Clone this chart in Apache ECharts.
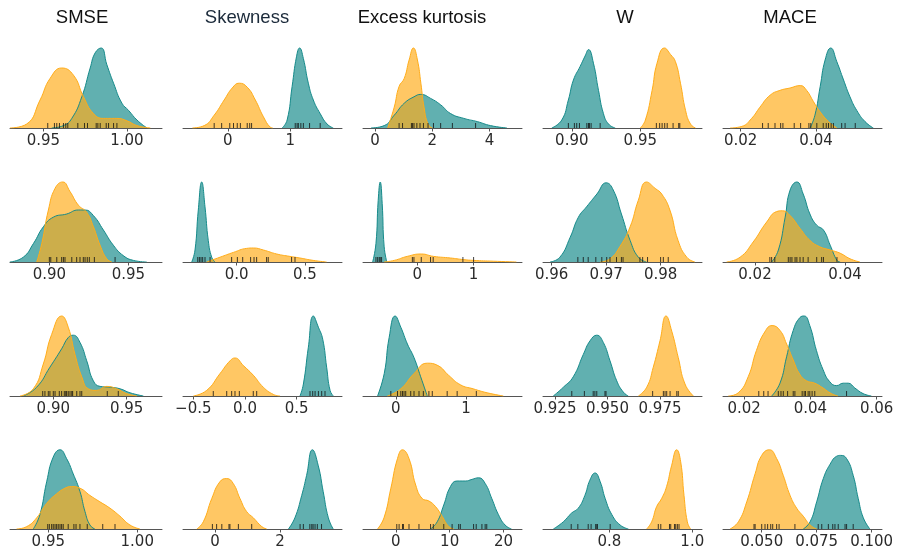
<!DOCTYPE html>
<html>
<head>
<meta charset="utf-8">
<title>KDE grid</title>
<script src="https://cdn.jsdelivr.net/npm/echarts@6/dist/echarts.min.js"></script>
<style>
  html, body { margin: 0; padding: 0; background: #fff; }
  #chart { width: 897px; height: 551px; }
</style>
</head>
<body>
<div id="chart"></div>
<script>
// column titles
var titles = ['SMSE', 'Skewness', 'Excess kurtosis', 'W', 'MACE'];

// ---- density curves, [value, relative density] ----
// row 1
var tealR1C1 = [[0.955,0],[0.962,0.03],[0.967,0.12],[0.973,0.39],[0.978,0.75],[0.981,0.94],[0.9846,1.0],[0.988,0.79],[0.992,0.56],[0.997,0.31],[1.001,0.22],[1.006,0.10],[1.012,0]];
var yellowR1C1 = [[0.93,0],[0.94,0.05],[0.948,0.35],[0.954,0.62],[0.961,0.75],[0.968,0.66],[0.974,0.39],[0.98,0.18],[0.986,0.12],[0.994,0.12],[1.0,0.09],[1.006,0.03],[1.014,0]];
var tealR1C2 = [[0.87,0],[0.95,0.1],[1.03,0.52],[1.1,0.89],[1.15,1.0],[1.21,0.87],[1.29,0.56],[1.37,0.35],[1.48,0.18],[1.59,0.05],[1.69,0]];
var yellowR1C2 = [[-0.57,0],[-0.38,0.03],[-0.22,0.16],[-0.06,0.35],[0.07,0.5],[0.18,0.56],[0.31,0.51],[0.44,0.35],[0.57,0.14],[0.68,0.01],[0.72,0]];
var tealR1C3 = [[-0.14,0],[0.32,0.03],[0.67,0.16],[1.02,0.31],[1.36,0.39],[1.6,0.42],[1.94,0.37],[2.29,0.29],[2.64,0.18],[3.1,0.12],[3.57,0.08],[4.03,0.03],[4.6,0]];
var yellowR1C3 = [[0.44,0],[0.67,0.26],[0.84,0.52],[1.02,0.62],[1.19,0.85],[1.34,1.0],[1.48,0.85],[1.6,0.56],[1.71,0.26],[1.85,0.05],[2.0,0]];
var tealR1C4 = [[0.8854,0],[0.8927,0.1],[0.8975,0.35],[0.9012,0.6],[0.9061,0.77],[0.9097,0.9],[0.9122,0.98],[0.9158,0.81],[0.9195,0.47],[0.9231,0.18],[0.9268,0.05],[0.9317,0]];
var yellowR1C4 = [[0.95,0],[0.9537,0.1],[0.9586,0.47],[0.9622,0.81],[0.9676,1.0],[0.972,0.92],[0.9756,0.83],[0.9793,0.56],[0.983,0.22],[0.9866,0.05],[0.9903,0]];
var tealR1C5 = [[0.0384,0],[0.0397,0.16],[0.0411,0.52],[0.0424,0.85],[0.0439,1.0],[0.0455,0.83],[0.0473,0.6],[0.049,0.39],[0.0508,0.22],[0.053,0.08],[0.0552,0]];
var yellowR1C5 = [[0.0172,0],[0.0203,0.02],[0.0229,0.12],[0.0251,0.26],[0.0278,0.41],[0.0304,0.47],[0.0331,0.5],[0.0358,0.53],[0.0375,0.47],[0.0393,0.33],[0.0411,0.2],[0.0433,0.08],[0.0455,0]];
// row 2
var tealR2C1 = [[0.875,0],[0.8835,0.06],[0.8899,0.23],[0.8962,0.44],[0.9025,0.56],[0.911,0.6],[0.9184,0.65],[0.9226,0.65],[0.9279,0.58],[0.9342,0.4],[0.9405,0.21],[0.9468,0.08],[0.9532,0.02],[0.9616,0]];
var yellowR2C1 = [[0.892,0],[0.8952,0.23],[0.8994,0.65],[0.9036,0.92],[0.9085,1.0],[0.9131,0.88],[0.9184,0.71],[0.9237,0.62],[0.9279,0.44],[0.9321,0.21],[0.9363,0.04],[0.9395,0]];
var tealR2C2 = [[-0.329,0],[-0.305,0.15],[-0.281,0.65],[-0.256,1.0],[-0.232,0.69],[-0.208,0.27],[-0.183,0.06],[-0.159,0]];
var yellowR2C2 = [[-0.22,0],[-0.122,0.06],[-0.024,0.12],[0.073,0.17],[0.122,0.175],[0.195,0.15],[0.293,0.1],[0.39,0.07],[0.463,0.05],[0.56,0.02],[0.658,0]];
var tealR2C3 = [[-0.794,0],[-0.735,0.23],[-0.695,0.77],[-0.659,1.0],[-0.624,0.73],[-0.589,0.19],[-0.541,0]];
var yellowR2C3 = [[-0.59,0],[-0.41,0.02],[-0.18,0.07],[0.07,0.1],[0.29,0.07],[0.59,0.05],[0.82,0.03],[1.0,0.02],[1.35,0.01],[1.76,0]];
var tealR2C4 = [[0.9597,0],[0.9615,0.06],[0.9634,0.31],[0.9649,0.56],[0.9664,0.69],[0.9683,0.85],[0.97,0.99],[0.9713,0.9],[0.9728,0.6],[0.9744,0.27],[0.9759,0.06],[0.9774,0]];
var yellowR2C4 = [[0.9689,0],[0.9707,0.04],[0.9725,0.19],[0.9744,0.44],[0.9759,0.77],[0.9774,1.0],[0.979,0.92],[0.9802,0.85],[0.9817,0.65],[0.9832,0.27],[0.9848,0.06],[0.9863,0]];
var tealR2C5 = [[0.0237,0],[0.0252,0.15],[0.0267,0.56],[0.0278,0.9],[0.0293,1.0],[0.0307,0.85],[0.0322,0.6],[0.0337,0.46],[0.0352,0.4],[0.0367,0.21],[0.0382,0.02],[0.0389,0]];
var yellowR2C5 = [[0.0137,0],[0.0167,0.06],[0.0196,0.25],[0.0226,0.5],[0.0248,0.63],[0.0261,0.64],[0.0278,0.58],[0.03,0.42],[0.0322,0.27],[0.0344,0.19],[0.0367,0.15],[0.0389,0.11],[0.0411,0.04],[0.0433,0]];
// row 3
var tealR3C1 = [[0.8795,0],[0.8887,0.11],[0.8977,0.36],[0.9057,0.59],[0.9102,0.73],[0.9136,0.76],[0.9182,0.67],[0.9228,0.44],[0.9273,0.19],[0.9319,0.12],[0.9387,0.11],[0.9455,0.09],[0.9523,0.04],[0.9614,0]];
var yellowR3C1 = [[0.8773,0],[0.8864,0.09],[0.8932,0.4],[0.8989,0.77],[0.9057,1.0],[0.9102,0.86],[0.9148,0.52],[0.9194,0.24],[0.9239,0.09],[0.9296,0.07],[0.9364,0.12],[0.9432,0.09],[0.95,0.03],[0.9569,0]];
var tealR3C2 = [[0.532,0],[0.565,0.15],[0.613,0.61],[0.661,1.0],[0.71,0.86],[0.752,0.71],[0.79,0.36],[0.823,0.07],[0.855,0]];
var yellowR3C2 = [[-0.5,0],[-0.371,0.07],[-0.242,0.28],[-0.145,0.44],[-0.097,0.475],[-0.016,0.38],[0.08,0.26],[0.177,0.11],[0.274,0.02],[0.339,0]];
var tealR3C3 = [[-0.26,0],[-0.165,0.28],[-0.095,0.73],[-0.01,1.0],[0.071,0.86],[0.165,0.65],[0.259,0.48],[0.354,0.24],[0.448,0]];
var yellowR3C3 = [[-0.12,0],[0.071,0.09],[0.259,0.28],[0.448,0.41],[0.6,0.38],[0.75,0.26],[0.92,0.14],[1.1,0.09],[1.3,0.04],[1.53,0]];
var tealR3C4 = [[0.9242,0],[0.929,0.11],[0.9337,0.24],[0.9385,0.52],[0.9417,0.69],[0.9449,0.76],[0.948,0.67],[0.9512,0.44],[0.9544,0.19],[0.9575,0.05],[0.9599,0]];
var yellowR3C4 = [[0.9647,0],[0.9687,0.11],[0.9718,0.36],[0.975,0.69],[0.9779,1.0],[0.9806,0.81],[0.9837,0.48],[0.9869,0.15],[0.9909,0]];
var tealR3C5 = [[0.0283,0],[0.0308,0.16],[0.0328,0.49],[0.0348,0.82],[0.0368,0.98],[0.0381,1.0],[0.0398,0.88],[0.0418,0.57],[0.0438,0.33],[0.0458,0.18],[0.0479,0.13],[0.0499,0.16],[0.0514,0.16],[0.0534,0.1],[0.0559,0.03],[0.0584,0]];
var yellowR3C5 = [[0.0152,0],[0.0182,0.04],[0.0212,0.24],[0.0237,0.57],[0.0262,0.8],[0.0284,0.88],[0.0308,0.82],[0.0328,0.65],[0.0348,0.45],[0.0368,0.27],[0.0388,0.19],[0.0413,0.16],[0.0438,0.1],[0.0463,0.03],[0.0483,0]];
// row 4
var tealR4C1 = [[0.9416,0],[0.9453,0.18],[0.9491,0.59],[0.9528,0.9],[0.9566,0.99],[0.9603,0.88],[0.964,0.69],[0.9678,0.47],[0.9706,0.22],[0.9734,0.05],[0.9762,0]];
var yellowR4C1 = [[0.9322,0],[0.9379,0.03],[0.9435,0.14],[0.9491,0.32],[0.9547,0.44],[0.9594,0.51],[0.9631,0.53],[0.9678,0.51],[0.9734,0.42],[0.979,0.34],[0.9847,0.26],[0.9903,0.16],[0.9959,0.05],[1.0015,0]];
var tealR4C2 = [[2.26,0],[2.46,0.14],[2.67,0.42],[2.82,0.67],[3.0,0.99],[3.18,0.79],[3.33,0.47],[3.49,0.14],[3.64,0]];
var yellowR4C2 = [[-0.56,0],[-0.36,0.09],[-0.1,0.38],[0.15,0.59],[0.36,0.63],[0.56,0.57],[0.77,0.38],[0.97,0.22],[1.18,0.14],[1.44,0.03],[1.59,0]];
var tealR4C3 = [[6.46,0],[7.69,0.09],[8.91,0.3],[10.15,0.53],[11.38,0.6],[12.92,0.6],[14.15,0.62],[15.37,0.64],[16.6,0.57],[17.84,0.38],[19.07,0.18],[20.3,0.05],[21.5,0]];
var yellowR4C3 = [[-3.4,0],[-2.2,0.14],[-0.92,0.51],[0.31,0.88],[1.24,0.99],[2.45,0.88],[3.69,0.55],[4.92,0.38],[6.15,0.35],[7.38,0.28],[8.6,0.16],[9.84,0.03],[10.8,0]];
var tealR4C4 = [[0.665,0],[0.689,0.09],[0.709,0.2],[0.725,0.26],[0.741,0.42],[0.753,0.61],[0.7655,0.7],[0.778,0.59],[0.79,0.38],[0.806,0.18],[0.826,0.05],[0.846,0]];
var yellowR4C4 = [[0.89,0],[0.902,0.09],[0.914,0.28],[0.926,0.38],[0.938,0.53],[0.95,0.79],[0.9624,0.99],[0.972,0.84],[0.98,0.42],[0.988,0.09],[0.996,0]];
var tealR4C5 = [[0.0689,0],[0.072,0.09],[0.075,0.34],[0.078,0.63],[0.0811,0.81],[0.0841,0.91],[0.0859,0.92],[0.0886,0.88],[0.0916,0.67],[0.0939,0.38],[0.0962,0.14],[0.0992,0]];
var yellowR4C5 = [[0.0356,0],[0.0394,0.09],[0.0432,0.34],[0.047,0.69],[0.05,0.92],[0.0535,0.99],[0.0568,0.88],[0.0598,0.67],[0.0629,0.42],[0.0659,0.26],[0.0689,0.16],[0.072,0.05],[0.075,0]];

// ---- rug samples ----
var rugTealR1C1 = [0.9746,0.9764,0.9816,0.9826,0.984,0.9876,0.989,0.992,0.994];
var rugYellowR1C1 = [0.9526,0.9566,0.958,0.9596,0.962,0.9634,0.9646,0.9706];
var rugTealR1C2 = [1.08,1.11,1.13,1.17,1.21,1.31,1.48];
var rugYellowR1C2 = [-0.22,-0.10,0.03,0.09,0.15,0.20,0.31,0.35,0.38];
var rugTealR1C3 = [1.85,2.04,2.29,2.7,3.51];
var rugYellowR1C3 = [0.84,0.96,1.27,1.31,1.36,1.46,1.57,1.69];
var rugTealR1C4 = [0.8975,0.9019,0.9036,0.9056,0.911,0.9122,0.9129,0.9141,0.9207];
var rugYellowR1C4 = [0.9617,0.9641,0.9659,0.9678,0.9696,0.9739,0.978,0.9788];
var rugTealR1C5 = [0.0402,0.0419,0.0427,0.0433,0.044,0.0446,0.0468,0.0477,0.0504];
var rugYellowR1C5 = [0.0258,0.0273,0.0291,0.0306,0.0312,0.0342,0.0359,0.0381,0.0386];

var rugTealR2C1 = [0.9194,0.9215,0.9226,0.924,0.9253,0.9285,0.9416];
var rugYellowR2C1 = [0.9,0.9009,0.9047,0.9078,0.9089,0.9099,0.9142,0.9173];
var rugTealR2C2 = [-0.285,-0.273,-0.261,-0.249,-0.232,-0.195];
var rugYellowR2C2 = [-0.037,0.005,0.044,0.102,0.127,0.146,0.219,0.231,0.402,0.427];
var rugTealR2C3 = [-0.735,-0.705,-0.677,-0.659,-0.635];
var rugYellowR2C3 = [-0.088,-0.06,0.07,0.235,0.282,0.81,1.0];
var rugTealR2C4 = [0.9648,0.9658,0.9667,0.9681,0.9692,0.9701,0.9707,0.9719,0.9728,0.9731];
var rugYellowR2C4 = [0.9762,0.9767,0.9776,0.98,0.9805,0.9814];
var rugTealR2C5 = [0.0289,0.0293,0.03,0.0307,0.0318,0.0337,0.0348,0.0352,0.0382];
var rugYellowR2C5 = [0.0233,0.0237,0.0244,0.0274,0.0278,0.0282];

var rugTealR3C1 = [0.9091,0.9102,0.9114,0.9126,0.9132,0.916,0.9182,0.9194,0.9368,0.9443];
var rugYellowR3C1 = [0.8928,0.8943,0.8966,0.8977,0.9,0.9012,0.9041,0.9057,0.9075,0.9085];
var rugTealR3C2 = [0.629,0.655,0.678,0.71,0.742,0.774];
var rugYellowR3C2 = [-0.307,-0.177,-0.129,-0.097,-0.055,0.08,0.113];
var rugTealR3C3 = [-0.071,0.024,0.071,0.095,0.117,0.141];
var rugYellowR3C3 = [0.212,0.259,0.33,0.392,0.471,0.519,0.731,0.873,1.146];
var rugTealR3C4 = [0.933,0.939,0.9432,0.944,0.9449,0.9488,0.9493];
var rugYellowR3C4 = [0.9715,0.9766,0.9774,0.9782,0.9798,0.983,0.9837];
var rugTealR3C5 = [0.0353,0.0375,0.0381,0.0385,0.0393,0.0398,0.0405,0.0413,0.0509];
var rugYellowR3C5 = [0.0244,0.0259,0.0272,0.0303,0.0311,0.0318,0.0331,0.0348];

var rugTealR4C1 = [0.9497,0.9506,0.9519,0.9528,0.9538,0.9547,0.9556,0.9566,0.9575];
var rugYellowR4C1 = [0.9584,0.9612,0.9644,0.9656,0.9678,0.9719,0.9806,0.9875];
var rugTealR4C2 = [2.62,2.72,2.92,2.98,3.02,3.08,3.15,3.28];
var rugYellowR4C2 = [-0.08,0.05,0.21,0.43,0.46,0.72,1.13];
var rugTealR4C3 = [8.91,10.46,11.68,11.99,14.45,14.94,16.0,16.6,16.9];
var rugYellowR4C3 = [0.18,0.61,1.24,1.42,2.45,4.3,6.46,6.96];
var rugTealR4C4 = [0.708,0.724,0.749,0.756,0.767,0.77,0.771,0.802];
var rugYellowR4C4 = [0.918,0.924,0.945,0.948,0.957,0.96,0.964,0.968];
var rugTealR4C5 = [0.0757,0.0773,0.0803,0.0823,0.0833,0.0848,0.0879,0.0886,0.0916];
var rugYellowR4C5 = [0.0465,0.047,0.05,0.0515,0.0527,0.0541,0.055,0.0568,0.0579,0.0651];

// ---- tick labels per panel [values, decimals] ----
var ticksR1 = [[[0.95,1.00],2], [[0,1],0], [[0,2,4],0], [[0.90,0.95],2], [[0.02,0.04],2]];
var ticksR2 = [[[0.90,0.95],2], [[0.0,0.5],1], [[0,1],0], [[0.96,0.97,0.98],2], [[0.02,0.04],2]];
var ticksR3 = [[[0.90,0.95],2], [[-0.5,0.0,0.5],1], [[0,1],0], [[0.925,0.950,0.975],3], [[0.02,0.04,0.06],2]];
var ticksR4 = [[[0.95,1.00],2], [[0,2],0], [[0,10,20],0], [[0.8,1.0],1], [[0.050,0.075,0.100],3]];

// ---- layout: x extents of every axis, grid positions ----
var extR1 = [[0.930,1.021],[-0.72,1.83],[-0.42,5.13],[0.879,0.995],[0.0153,0.0575]];
var extR2 = [[0.8751,0.9713],[-0.393,0.771],[-0.965,1.86],[0.9584,0.9876],[0.0129,0.0482]];
var extR3 = [[0.8705,0.9741],[-0.6,0.9385],[-0.467,1.796],[0.9193,0.995],[0.0136,0.0616]];
var extR4 = [[0.9285,1.0139],[-0.985,3.91],[-6.1,23.45],[0.64,1.0234],[0.0324,0.1047]];

var colLeft = [10, 183, 363, 543, 723];
var colWidth = [152, 159, 159, 159, 159];
var rowBase = [128, 262, 396, 529];
var plotH = 81;
var titleX = [82, 247, 422, 625, 790];

var TEAL = '#168a8a';
var YELLOW = '#ffac1a';

var curves = [
  [[tealR1C1,yellowR1C1],[tealR1C2,yellowR1C2],[tealR1C3,yellowR1C3],[tealR1C4,yellowR1C4],[tealR1C5,yellowR1C5]],
  [[tealR2C1,yellowR2C1],[tealR2C2,yellowR2C2],[tealR2C3,yellowR2C3],[tealR2C4,yellowR2C4],[tealR2C5,yellowR2C5]],
  [[tealR3C1,yellowR3C1],[tealR3C2,yellowR3C2],[tealR3C3,yellowR3C3],[tealR3C4,yellowR3C4],[tealR3C5,yellowR3C5]],
  [[tealR4C1,yellowR4C1],[tealR4C2,yellowR4C2],[tealR4C3,yellowR4C3],[tealR4C4,yellowR4C4],[tealR4C5,yellowR4C5]]
];
var rugs = [
  [[rugTealR1C1,rugYellowR1C1],[rugTealR1C2,rugYellowR1C2],[rugTealR1C3,rugYellowR1C3],[rugTealR1C4,rugYellowR1C4],[rugTealR1C5,rugYellowR1C5]],
  [[rugTealR2C1,rugYellowR2C1],[rugTealR2C2,rugYellowR2C2],[rugTealR2C3,rugYellowR2C3],[rugTealR2C4,rugYellowR2C4],[rugTealR2C5,rugYellowR2C5]],
  [[rugTealR3C1,rugYellowR3C1],[rugTealR3C2,rugYellowR3C2],[rugTealR3C3,rugYellowR3C3],[rugTealR3C4,rugYellowR3C4],[rugTealR3C5,rugYellowR3C5]],
  [[rugTealR4C1,rugYellowR4C1],[rugTealR4C2,rugYellowR4C2],[rugTealR4C3,rugYellowR4C3],[rugTealR4C4,rugYellowR4C4],[rugTealR4C5,rugYellowR4C5]]
];
var ticks = [ticksR1, ticksR2, ticksR3, ticksR4];
var extents = [extR1, extR2, extR3, extR4];

function fmt(v, dec) {
  var s = Math.abs(v).toFixed(dec);
  return v < 0 ? '\u2212' + s : s;
}

function kdeLine(data, color, idx) {
  return {
    type: 'line',
    xAxisIndex: idx,
    yAxisIndex: idx,
    data: data,
    smooth: 0.5,
    symbol: 'none',
    silent: true,
    lineStyle: { color: color, width: 1 },
    areaStyle: { color: color, opacity: 0.68 }
  };
}

var grids = [], xAxes = [], yAxes = [], series = [];
for (var r = 0; r < 4; r++) {
  for (var c = 0; c < 5; c++) {
    var idx = r * 5 + c;
    grids.push({
      left: colLeft[c], top: rowBase[r] - plotH,
      width: colWidth[c], height: plotH
    });
    (function (tk) {
      xAxes.push({
        type: 'value',
        gridIndex: idx,
        min: extents[r][c][0],
        max: extents[r][c][1],
        splitLine: { show: false },
        axisLine: { lineStyle: { color: '#555', width: 1 } },
        axisTick: { customValues: tk[0], length: 3.5, lineStyle: { color: '#555' } },
        axisLabel: {
          customValues: tk[0],
          formatter: function (v) { return fmt(v, tk[1]); },
          fontSize: 15, color: '#2b2b2b', fontFamily: 'DejaVu Sans', margin: 6
        }
      });
    })(ticks[r][c]);
    yAxes.push({ type: 'value', gridIndex: idx, min: 0, max: plotH / 80, show: false });

    // teal first, yellow drawn over it
    series.push(kdeLine(curves[r][c][0], TEAL, idx));
    series.push(kdeLine(curves[r][c][1], YELLOW, idx));

    var pts = [];
    rugs[r][c][0].concat(rugs[r][c][1]).forEach(function (v) { pts.push([v, 0]); });
    series.push({
      type: 'scatter',
      xAxisIndex: idx,
      yAxisIndex: idx,
      data: pts,
      symbol: 'rect',
      symbolSize: [1, 5],
      symbolOffset: [0, '-50%'],
      silent: true,
      z: 5,
      itemStyle: { color: '#111', opacity: 0.8 }
    });
  }
}

var graphics = titles.map(function (t, i) {
  return {
    type: 'text',
    x: titleX[i],
    y: 18,
    style: {
      text: t,
      align: 'center',
      verticalAlign: 'middle',
      fontSize: 18.5,
      fontFamily: 'Liberation Sans, Arial, sans-serif',
      fill: i === 1 ? '#1b2a3a' : '#111'
    }
  };
});

var chart = echarts.init(document.getElementById('chart'));
chart.setOption({
  animation: false,
  backgroundColor: '#fff',
  grid: grids,
  xAxis: xAxes,
  yAxis: yAxes,
  series: series,
  graphic: graphics
});
</script>
</body>
</html>
